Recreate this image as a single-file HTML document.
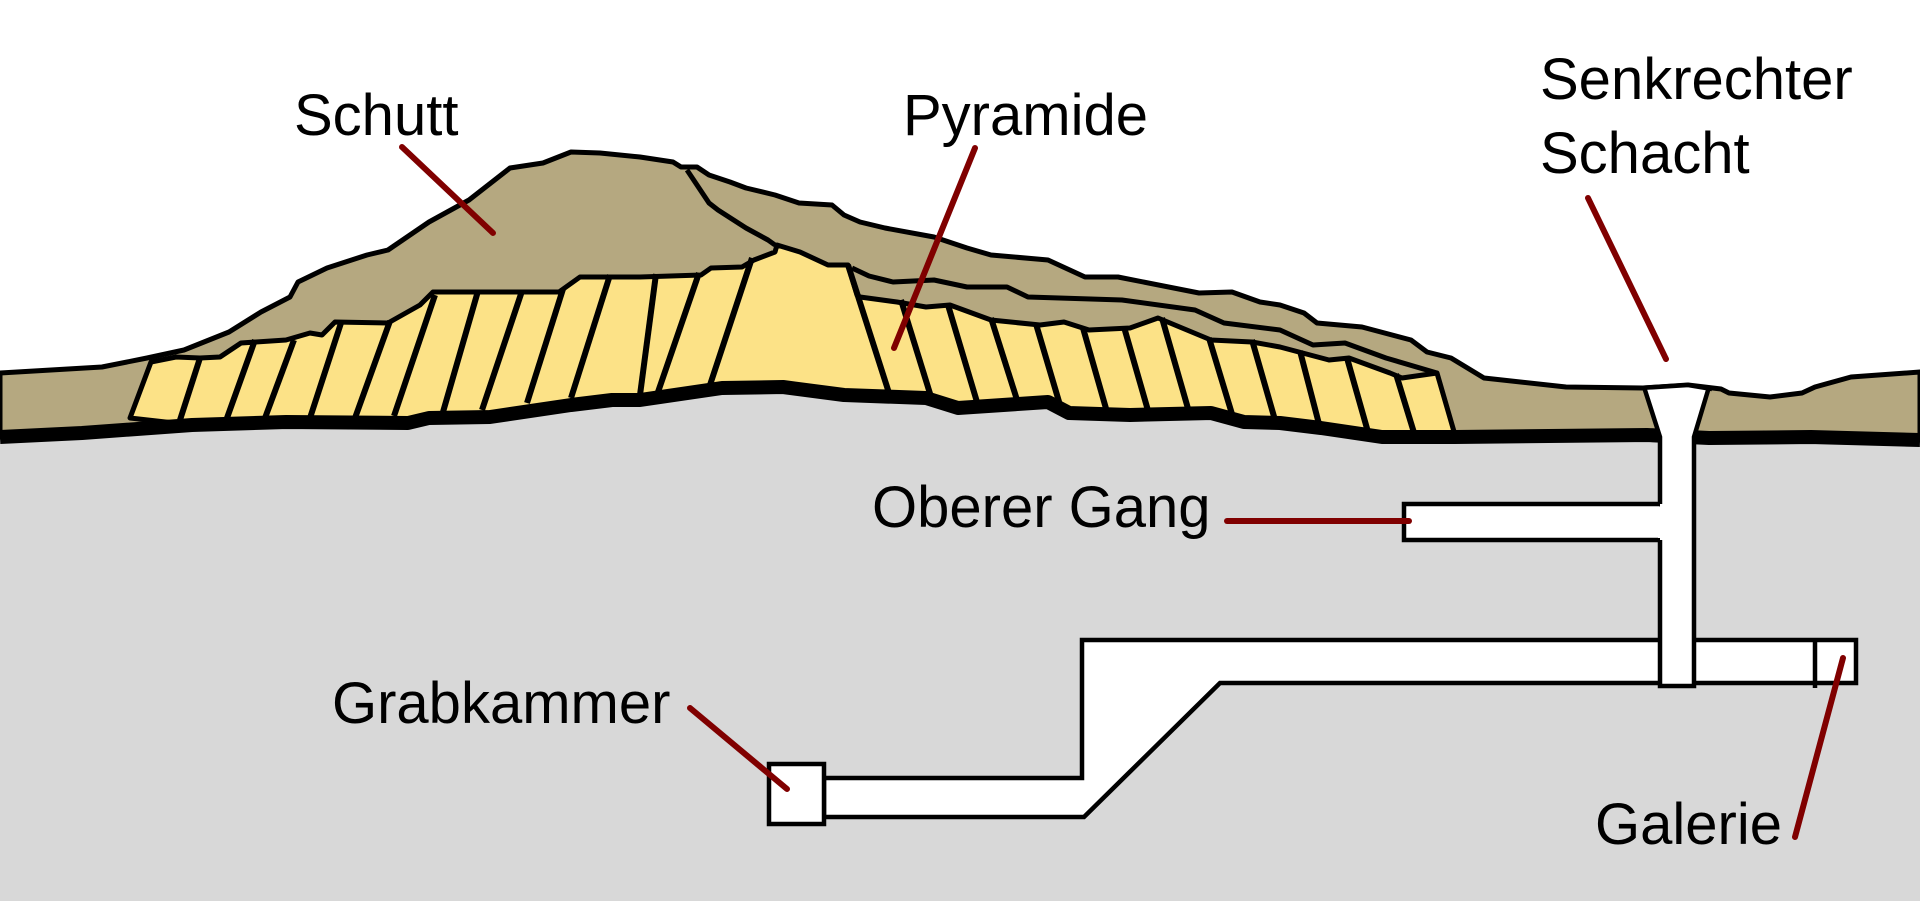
<!DOCTYPE html>
<html><head><meta charset="utf-8"><style>
html,body{margin:0;padding:0;background:#fff;}
svg{display:block;}
text{font-family:"Liberation Sans",sans-serif;font-size:58px;fill:#000;}
</style></head><body>
<svg width="1920" height="903" viewBox="0 0 1920 903" xmlns="http://www.w3.org/2000/svg">
<rect width="1920" height="903" fill="#fff"/>
<polygon fill="#d8d8d8" points="0,437 82,433 192,425 286,422 408,423 429,418 490,417 571,405 612,400 640,400 722,388 783,387 844,395 926,398 958,408 1048,402 1069,413 1130,415 1211,413 1244,422 1280,423 1321,428 1382,437 1455,437 1647,435 1709,438 1811,437 1920,440 1920,901 0,901"/>
<polygon fill="#b5a880" stroke="#000" stroke-width="5" stroke-linejoin="round" points="0,373 102,367 147,358 184,350 229,332 261,312 290,297 298,282 327,268 367,255 388,250 429,222 469,200 510,168 543,163 571,152 600,153 640,157 673,162 681,167 697,167 709,175 730,182 746,188 775,195 799,203 832,205 844,215 860,222 885,228 934,237 967,248 991,255 1048,260 1085,277 1118,277 1199,293 1232,292 1260,302 1280,305 1304,313 1317,323 1362,327 1411,340 1427,352 1451,358 1484,378 1566,387 1643,388 1688,385 1721,389 1729,393 1770,397 1802,393 1815,387 1851,377 1920,372 1920,440 1811,437 1709,438 1647,435 1455,437 1382,437 1321,428 1280,423 1244,422 1211,413 1130,415 1069,413 1048,402 958,408 926,398 844,395 783,387 722,388 640,400 612,400 571,405 490,417 429,418 408,423 286,422 192,425 82,433 0,437"/>
<polyline fill="none" stroke="#000" stroke-width="5" stroke-linejoin="round" points="687,170 709,203 718,210 746,228 768,240 775,245"/>
<polyline fill="none" stroke="#000" stroke-width="5" stroke-linejoin="round" points="852,268 869,276 893,282 934,280 967,287 1007,287 1028,297 1122,300 1195,310 1224,323 1280,330 1313,345 1345,343 1386,358 1437,373"/>
<polygon fill="#fce287" stroke="#000" stroke-width="5" stroke-linejoin="round" points="130,418 151,362 176,357 200,358 220,357 241,343 286,340 310,333 322,335 335,322 388,323 420,305 433,292 559,292 580,277 640,277 701,275 711,268 742,267 754,260 775,252 777,245 800,252 828,265 848,265 857,295 860,297 897,302 926,307 950,305 991,320 1040,325 1064,322 1089,330 1130,328 1158,318 1211,340 1252,342 1280,347 1329,360 1349,358 1390,373 1402,378 1437,373 1455,435 1382,437 1321,428 1280,423 1244,422 1211,413 1130,415 1069,413 1048,402 958,408 926,398 844,395 783,387 722,388 640,400 612,400 571,405 490,417 429,418 408,423 286,422 192,425"/>
<g stroke="#000" stroke-width="6" stroke-linecap="butt">
<line x1="200" y1="358" x2="180" y2="420"/>
<line x1="255" y1="340" x2="227" y2="418"/>
<line x1="294" y1="340" x2="265" y2="418"/>
<line x1="341" y1="323" x2="310" y2="418"/>
<line x1="390" y1="321" x2="355" y2="418"/>
<line x1="435" y1="295" x2="394" y2="416"/>
<line x1="478" y1="291" x2="443" y2="412"/>
<line x1="522" y1="291" x2="482" y2="410"/>
<line x1="563" y1="289" x2="527" y2="403"/>
<line x1="610" y1="275" x2="571" y2="398"/>
<line x1="656" y1="274" x2="640" y2="395"/>
<line x1="699" y1="273" x2="658" y2="392"/>
<line x1="752" y1="258" x2="709" y2="388"/>
<line x1="848" y1="265" x2="889" y2="393"/>
<line x1="901" y1="300" x2="932" y2="400"/>
<line x1="948" y1="305" x2="977" y2="402"/>
<line x1="991" y1="318" x2="1018" y2="403"/>
<line x1="1036" y1="324" x2="1060" y2="405"/>
<line x1="1083" y1="328" x2="1107" y2="412"/>
<line x1="1124" y1="327" x2="1149" y2="414"/>
<line x1="1162" y1="318" x2="1189" y2="412"/>
<line x1="1209" y1="338" x2="1232" y2="414"/>
<line x1="1252" y1="340" x2="1275" y2="420"/>
<line x1="1300" y1="351" x2="1319" y2="424"/>
<line x1="1347" y1="358" x2="1368" y2="432"/>
<line x1="1396" y1="374" x2="1415" y2="436"/>
</g>
<polyline fill="none" stroke="#000" stroke-width="14" stroke-linejoin="round" points="0,437 82,433 192,425 286,422 408,423 429,418 490,417 571,405 612,400 640,400 722,388 783,387 844,395 926,398 958,408 1048,402 1069,413 1130,415 1211,413 1244,422 1280,423 1321,428 1382,437 1455,437 1647,435 1709,438 1811,437 1920,440"/>
<polygon fill="#fff" stroke="#000" stroke-width="4.5" points="1082,640 1856,640 1856,683 1220,683 1084,817 824,817 824,778 1082,778"/>
<line x1="1815" y1="640" x2="1815" y2="688" stroke="#000" stroke-width="4.5"/>
<rect x="769" y="764" width="55" height="60" fill="#fff" stroke="#000" stroke-width="4.5"/>
<polygon fill="#fff" stroke="#000" stroke-width="4.5" points="1662,504 1404,504 1404,540 1662,540"/>
<polygon fill="#fff" points="1644,387 1709,387 1694,437 1694,686 1660,686 1660,437"/>
<rect x="1658" y="507" width="10" height="31" fill="#fff"/>
<g stroke="#000" stroke-width="4.5" fill="none">
<polyline points="1644,387 1660,437 1660,504"/>
<polyline points="1709,387 1694,437 1694,686 1660,686 1660,540"/>
<polyline points="1640,388 1688,385 1712,389"/>
</g>
<g stroke="#800000" stroke-width="6" stroke-linecap="round">
<line x1="402" y1="147" x2="493" y2="233"/>
<line x1="975" y1="148" x2="894" y2="348"/>
<line x1="1588" y1="198" x2="1666" y2="359"/>
<line x1="1227" y1="521" x2="1409" y2="521"/>
<line x1="690" y1="708" x2="787" y2="789"/>
<line x1="1795" y1="837" x2="1843" y2="658"/>
</g>
<text x="294" y="135">Schutt</text>
<text x="903" y="135">Pyramide</text>
<text x="1540" y="99">Senkrechter</text>
<text x="1540" y="173">Schacht</text>
<text x="872" y="527">Oberer Gang</text>
<text x="332" y="723">Grabkammer</text>
<text x="1595" y="844">Galerie</text>
</svg>
</body></html>
